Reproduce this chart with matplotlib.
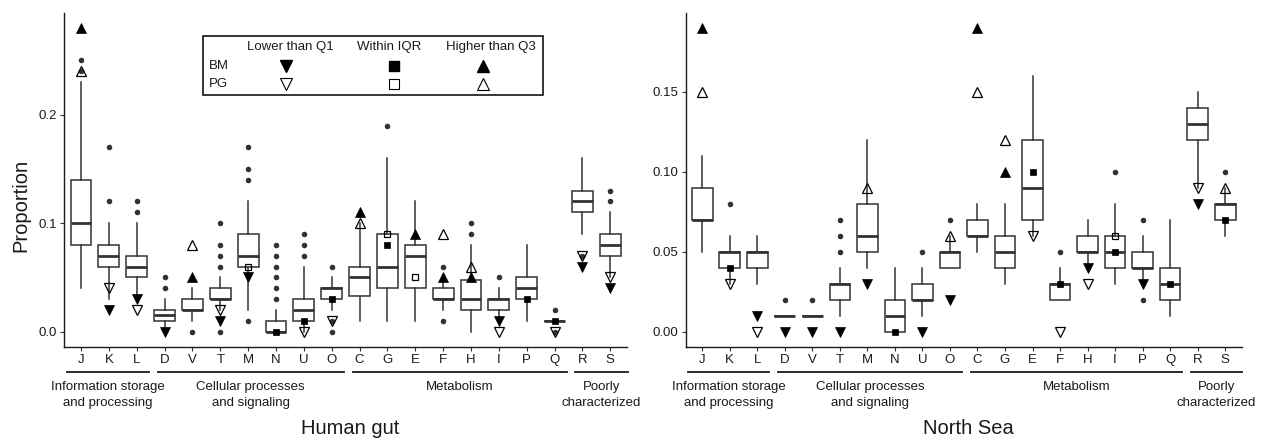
import matplotlib
matplotlib.use('Agg')
import matplotlib.pyplot as plt
import matplotlib.transforms as mtransforms
from matplotlib.patches import Rectangle
from matplotlib.lines import Line2D
import numpy as np

plt.rcParams['font.family'] = ['Liberation Sans', 'DejaVu Sans']

# ---------------- data ----------------
categories = ['J', 'K', 'L', 'D', 'V', 'T', 'M', 'N', 'U', 'O',
              'C', 'G', 'E', 'F', 'H', 'I', 'P', 'Q', 'R', 'S']
group_names = ['Information storage\nand processing', 'Cellular processes\nand signaling',
               'Metabolism', 'Poorly\ncharacterized']
group_sizes = [3, 7, 8, 2]

nan = float('nan')

# Human gut
hg_whislo = [0.04, 0.03, 0.03, 0.00, 0.01, 0.02, 0.02, 0.00, 0.00, 0.02,
             0.01, 0.01, 0.01, 0.02, 0.00, 0.01, 0.01, 0.01, 0.09, 0.05]
hg_q1 = [0.08, 0.06, 0.05, 0.01, 0.02, 0.03, 0.06, 0.00, 0.01, 0.03,
         0.0325, 0.04, 0.04, 0.03, 0.02, 0.02, 0.03, 0.01, 0.11, 0.07]
hg_med = [0.10, 0.07, 0.06, 0.015, 0.02, 0.03, 0.07, 0.00, 0.02, 0.04,
          0.05, 0.06, 0.07, 0.03, 0.03, 0.03, 0.04, 0.01, 0.12, 0.08]
hg_q3 = [0.14, 0.08, 0.07, 0.02, 0.03, 0.04, 0.09, 0.01, 0.03, 0.04,
         0.06, 0.09, 0.08, 0.04, 0.0475, 0.03, 0.05, 0.01, 0.13, 0.09]
hg_whishi = [0.23, 0.10, 0.10, 0.03, 0.04, 0.05, 0.12, 0.02, 0.06, 0.05,
             0.10, 0.16, 0.12, 0.05, 0.08, 0.04, 0.08, 0.01, 0.16, 0.11]
hg_outliers = [[0.25, 0.24], [0.17, 0.12], [0.12, 0.11], [0.05, 0.04], [0.00],
               [0.10, 0.08, 0.07, 0.06, 0.00], [0.17, 0.15, 0.14, 0.01],
               [0.08, 0.07, 0.06, 0.05, 0.04, 0.03], [0.09, 0.08, 0.07],
               [0.06, 0.01, 0.00], [], [0.19], [], [0.06, 0.01], [0.10, 0.09],
               [0.05], [], [0.02, 0.00], [0.07], [0.13, 0.12]]
hg_bm = [0.28, 0.02, 0.03, 0.00, 0.05, 0.01, 0.05, 0.00, 0.01, 0.03,
         0.11, 0.08, 0.09, 0.05, 0.05, 0.01, 0.03, 0.01, 0.06, 0.04]
hg_pg = [0.24, 0.04, 0.02, nan, 0.08, 0.02, 0.06, nan, 0.00, 0.01,
         0.10, 0.09, 0.05, 0.09, 0.06, 0.00, nan, 0.00, 0.07, 0.05]

# North Sea
ns_whislo = [0.05, 0.03, 0.03, 0.01, 0.01, 0.01, 0.04, 0.00, 0.01, 0.04,
             0.05, 0.03, 0.06, 0.02, 0.04, 0.03, 0.03, 0.01, 0.09, 0.06]
ns_q1 = [0.07, 0.04, 0.04, 0.01, 0.01, 0.02, 0.05, 0.00, 0.02, 0.04,
         0.06, 0.04, 0.07, 0.02, 0.05, 0.04, 0.04, 0.02, 0.12, 0.07]
ns_med = [0.07, 0.05, 0.05, 0.01, 0.01, 0.03, 0.06, 0.01, 0.02, 0.05,
          0.06, 0.05, 0.09, 0.03, 0.05, 0.05, 0.04, 0.03, 0.13, 0.08]
ns_q3 = [0.09, 0.05, 0.05, 0.01, 0.01, 0.03, 0.08, 0.02, 0.03, 0.05,
         0.07, 0.06, 0.12, 0.03, 0.06, 0.06, 0.05, 0.04, 0.14, 0.08]
ns_whishi = [0.11, 0.06, 0.06, 0.01, 0.01, 0.04, 0.12, 0.04, 0.04, 0.06,
             0.08, 0.08, 0.16, 0.04, 0.07, 0.08, 0.06, 0.07, 0.15, 0.09]
ns_outliers = [[], [0.08], [], [0.02], [0.02], [0.07, 0.06, 0.05], [], [],
               [0.05], [0.07], [], [], [], [0.05], [], [0.10], [0.07, 0.02],
               [], [], [0.10]]
ns_bm = [0.19, 0.04, 0.01, 0.00, 0.00, 0.00, 0.03, 0.00, 0.00, 0.02,
         0.19, 0.10, 0.10, 0.03, 0.04, 0.05, 0.03, 0.03, 0.08, 0.07]
ns_pg = [0.15, 0.03, 0.00, nan, nan, nan, 0.09, nan, nan, 0.06,
         0.15, 0.12, 0.06, 0.00, 0.03, 0.06, nan, nan, 0.09, 0.09]

legend_cols = ['Lower than Q1', 'Within IQR', 'Higher than Q3']
legend_rows = ['BM', 'PG']

# ---------------- layout ----------------
W, H = 1269, 440
fig = plt.figure(figsize=(W / 100, H / 100), dpi=100)


def fx(px):
    return px / W


def fy(py):
    return 1 - py / H


EDGE = '#333333'
TXT = '#1a1a1a'


def shape_for(v, q1, q3, eps=1e-9):
    if v < q1 - eps:
        return 'v'
    if v > q3 + eps:
        return '^'
    return 's'


def draw_panel(ax, whislo, q1, med, q3, whishi, outliers, bm, pg,
               ylim, yticks, yticklabels, title, title_x):
    pos = np.arange(1, len(categories) + 1)
    stats = [dict(whislo=a, q1=b, med=c, q3=d, whishi=e, fliers=f)
             for a, b, c, d, e, f in zip(whislo, q1, med, q3, whishi, outliers)]
    ax.bxp(stats, positions=pos, widths=0.75, patch_artist=True, showcaps=False,
           boxprops=dict(facecolor='white', edgecolor=EDGE, linewidth=1.1),
           whiskerprops=dict(color=EDGE, linewidth=1.1),
           medianprops=dict(color=EDGE, linewidth=2.0, solid_capstyle='butt'),
           flierprops=dict(marker='o', markerfacecolor=EDGE, markeredgecolor='none',
                           markersize=4.0))
    for i, p in enumerate(pos):
        for vals, filled in ((pg, False), (bm, True)):
            v = vals[i]
            if np.isnan(v):
                continue
            m = shape_for(v, q1[i], q3[i])
            ms = 7.6 if m in ('^', 'v') else 5.0
            if filled:
                ax.plot([p], [v], marker=m, ms=ms, color='black', mec='black',
                        mew=0.5, ls='none', zorder=5, clip_on=False)
            else:
                ax.plot([p], [v], marker=m, ms=ms - 0.6, mfc='none', mec='black',
                        mew=0.9, ls='none', zorder=4, clip_on=False)

    ax.set_xlim(0.4, len(categories) + 0.6)
    ax.set_ylim(*ylim)
    ax.set_xticks(pos)
    ax.set_xticklabels(categories)
    ax.set_yticks(yticks)
    ax.set_yticklabels(yticklabels)
    for s in ('top', 'right'):
        ax.spines[s].set_visible(False)
    for s in ('left', 'bottom'):
        ax.spines[s].set_color(TXT)
        ax.spines[s].set_linewidth(1.0)
    ax.tick_params(axis='both', length=3, width=0.8, color=EDGE, labelsize=9.5,
                   labelcolor=TXT, pad=2.5)

    # group annotations
    tr = mtransforms.blended_transform_factory(ax.transData, fig.transFigure)
    start = 1
    for gi, (name, n) in enumerate(zip(group_names, group_sizes)):
        first, last = start, start + n - 1
        x0 = first - (0.51 if gi == 0 else 0.25)
        x1 = last + (0.62 if gi == len(group_sizes) - 1 else 0.44)
        ax.add_line(Line2D([x0, x1], [fy(372), fy(372)], transform=tr, color=TXT,
                           lw=1.3, clip_on=False))
        ax.text((x0 + x1) / 2, fy(381), name, transform=tr, ha='center', va='top',
                fontsize=9.5, color=TXT, linespacing=1.4)
        start += n

    fig.text(fx(title_x), fy(428), title, ha='center', va='center', fontsize=14.5,
             color=TXT)


ax1 = fig.add_axes([fx(64.3), fy(346.7), fx(627) - fx(64.3), fy(13) - fy(346.7)])
ax2 = fig.add_axes([fx(685.7), fy(346.7), fx(1241.7) - fx(685.7), fy(13) - fy(346.7)])

draw_panel(ax1, hg_whislo, hg_q1, hg_med, hg_q3, hg_whishi, hg_outliers, hg_bm, hg_pg,
           (-0.0138, 0.2937), [0.0, 0.1, 0.2], ['0.0', '0.1', '0.2'], 'Human gut', 350)
draw_panel(ax2, ns_whislo, ns_q1, ns_med, ns_q3, ns_whishi, ns_outliers, ns_bm, ns_pg,
           (-0.0094, 0.1992), [0.0, 0.05, 0.10, 0.15], ['0.00', '0.05', '0.10', '0.15'],
           'North Sea', 968)

fig.text(fx(21), fy(205), 'Proportion', rotation=90, ha='center', va='center',
         fontsize=14.5, color=TXT)

# ---------------- legend table ----------------
fig.add_artist(Rectangle((fx(203), fy(94.5)), fx(543) - fx(203), fy(36) - fy(94.5),
                         transform=fig.transFigure, fill=False, edgecolor='black',
                         lw=1.1))
header_x = [290.5, 389, 491]
marker_x = [286, 394, 483]
row_y = [66, 84]
for hx, name in zip(header_x, legend_cols):
    fig.text(fx(hx), fy(47), name, ha='center', va='center', fontsize=9.5, color=TXT)
for ry, name in zip(row_y, legend_rows):
    fig.text(fx(209), fy(ry), name, ha='left', va='center', fontsize=9.5, color=TXT)
for mx, m in zip(marker_x, ['v', 's', '^']):
    ms = 8.6 if m != 's' else 7.8
    fig.add_artist(Line2D([fx(mx)], [fy(row_y[0])], marker=m, ms=ms, color='black',
                          ls='none', transform=fig.transFigure))
    fig.add_artist(Line2D([fx(mx)], [fy(row_y[1])], marker=m, ms=ms - 0.6, mfc='none',
                          mec='black', mew=0.8, ls='none', transform=fig.transFigure))

fig.savefig('out.png', dpi=100)
